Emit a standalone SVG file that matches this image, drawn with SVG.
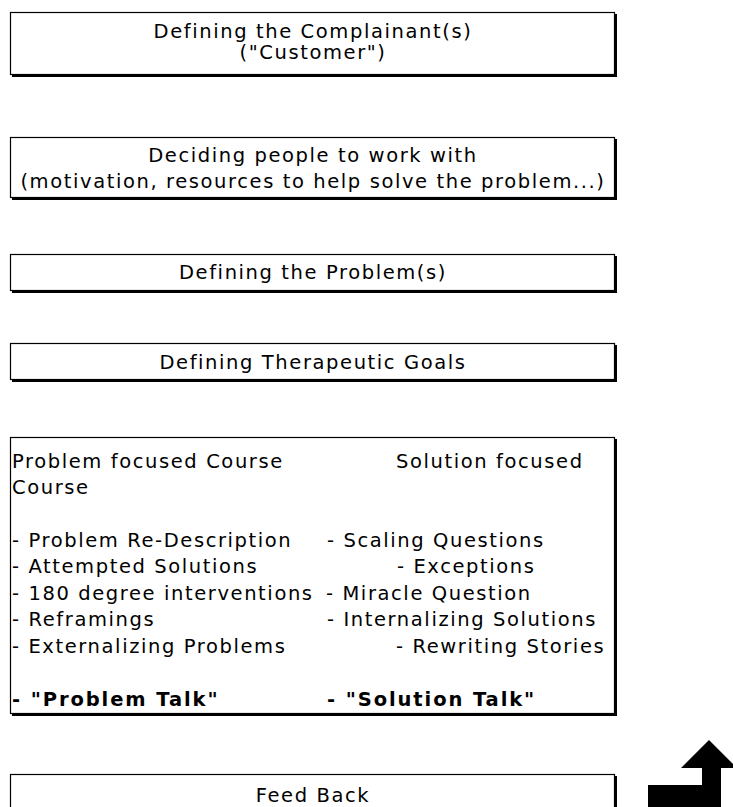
<svg xmlns="http://www.w3.org/2000/svg" width="733" height="807" viewBox="0 0 733 807">
<style>
.box{fill:#fff;stroke:#000;stroke-width:1.2}
.sh{fill:none;stroke:#000;stroke-width:2}
text{font-family:"DejaVu Sans","Liberation Sans",sans-serif;font-size:19.5px;letter-spacing:1.6px;fill:#000}
.c{text-anchor:middle}
.b{font-weight:bold;letter-spacing:1.9px}
</style>
<rect width="733" height="807" fill="#fff"/>
<g id="n1">
<rect class="box" x="10.5" y="12.5" width="604" height="62"/>
<polyline class="sh" points="12,76 616,76 616,14"/>
<text class="c" x="313" y="38">Defining the Complainant(s)</text>
<text class="c" x="313" y="59">("Customer")</text>
</g>
<g id="n2">
<rect class="box" x="10.5" y="137.5" width="604" height="60"/>
<polyline class="sh" points="12,199 616,199 616,139"/>
<text class="c" x="313" y="162">Deciding people to work with</text>
<text class="c" x="313" y="188">(motivation, resources to help solve the problem...)</text>
</g>
<g id="n3">
<rect class="box" x="10.5" y="254.5" width="604" height="36"/>
<polyline class="sh" points="12,292 616,292 616,256"/>
<text class="c" x="313" y="279">Defining the Problem(s)</text>
</g>
<g id="n4">
<rect class="box" x="10.5" y="343.5" width="604" height="36"/>
<polyline class="sh" points="12,381 616,381 616,345"/>
<text class="c" x="313" y="369">Defining Therapeutic Goals</text>
</g>
<g id="n5">
<rect class="box" x="10.5" y="437.5" width="604" height="276"/>
<polyline class="sh" points="12,715 616,715 616,439"/>
<text x="12" y="468">Problem focused Course</text>
<text x="396" y="468">Solution focused</text>
<text x="12" y="494">Course</text>
<text x="12" y="547">- Problem Re-Description</text>
<text x="12" y="573">- Attempted Solutions</text>
<text x="12" y="600">- 180 degree interventions</text>
<text x="12" y="626">- Reframings</text>
<text x="12" y="653">- Externalizing Problems</text>
<text class="b" x="12" y="706">- "Problem Talk"</text>
<text x="327" y="547">- Scaling Questions</text>
<text x="397" y="573">- Exceptions</text>
<text x="326" y="600">- Miracle Question</text>
<text x="327" y="626">- Internalizing Solutions</text>
<text x="396" y="653">- Rewriting Stories</text>
<text class="b" x="327" y="706">- "Solution Talk"</text>
</g>
<g id="n6">
<rect class="box" x="10.5" y="774.5" width="604" height="40"/>
<polyline class="sh" points="616,776 616,807"/>
<text class="c" x="313" y="802">Feed Back</text>
</g>
<g id="connectors">
<polygon points="709,740 737,768 721,768 721,807 648,807 648,785 702,785 702,768 681,768" fill="#000"/>
</g>
</svg>
